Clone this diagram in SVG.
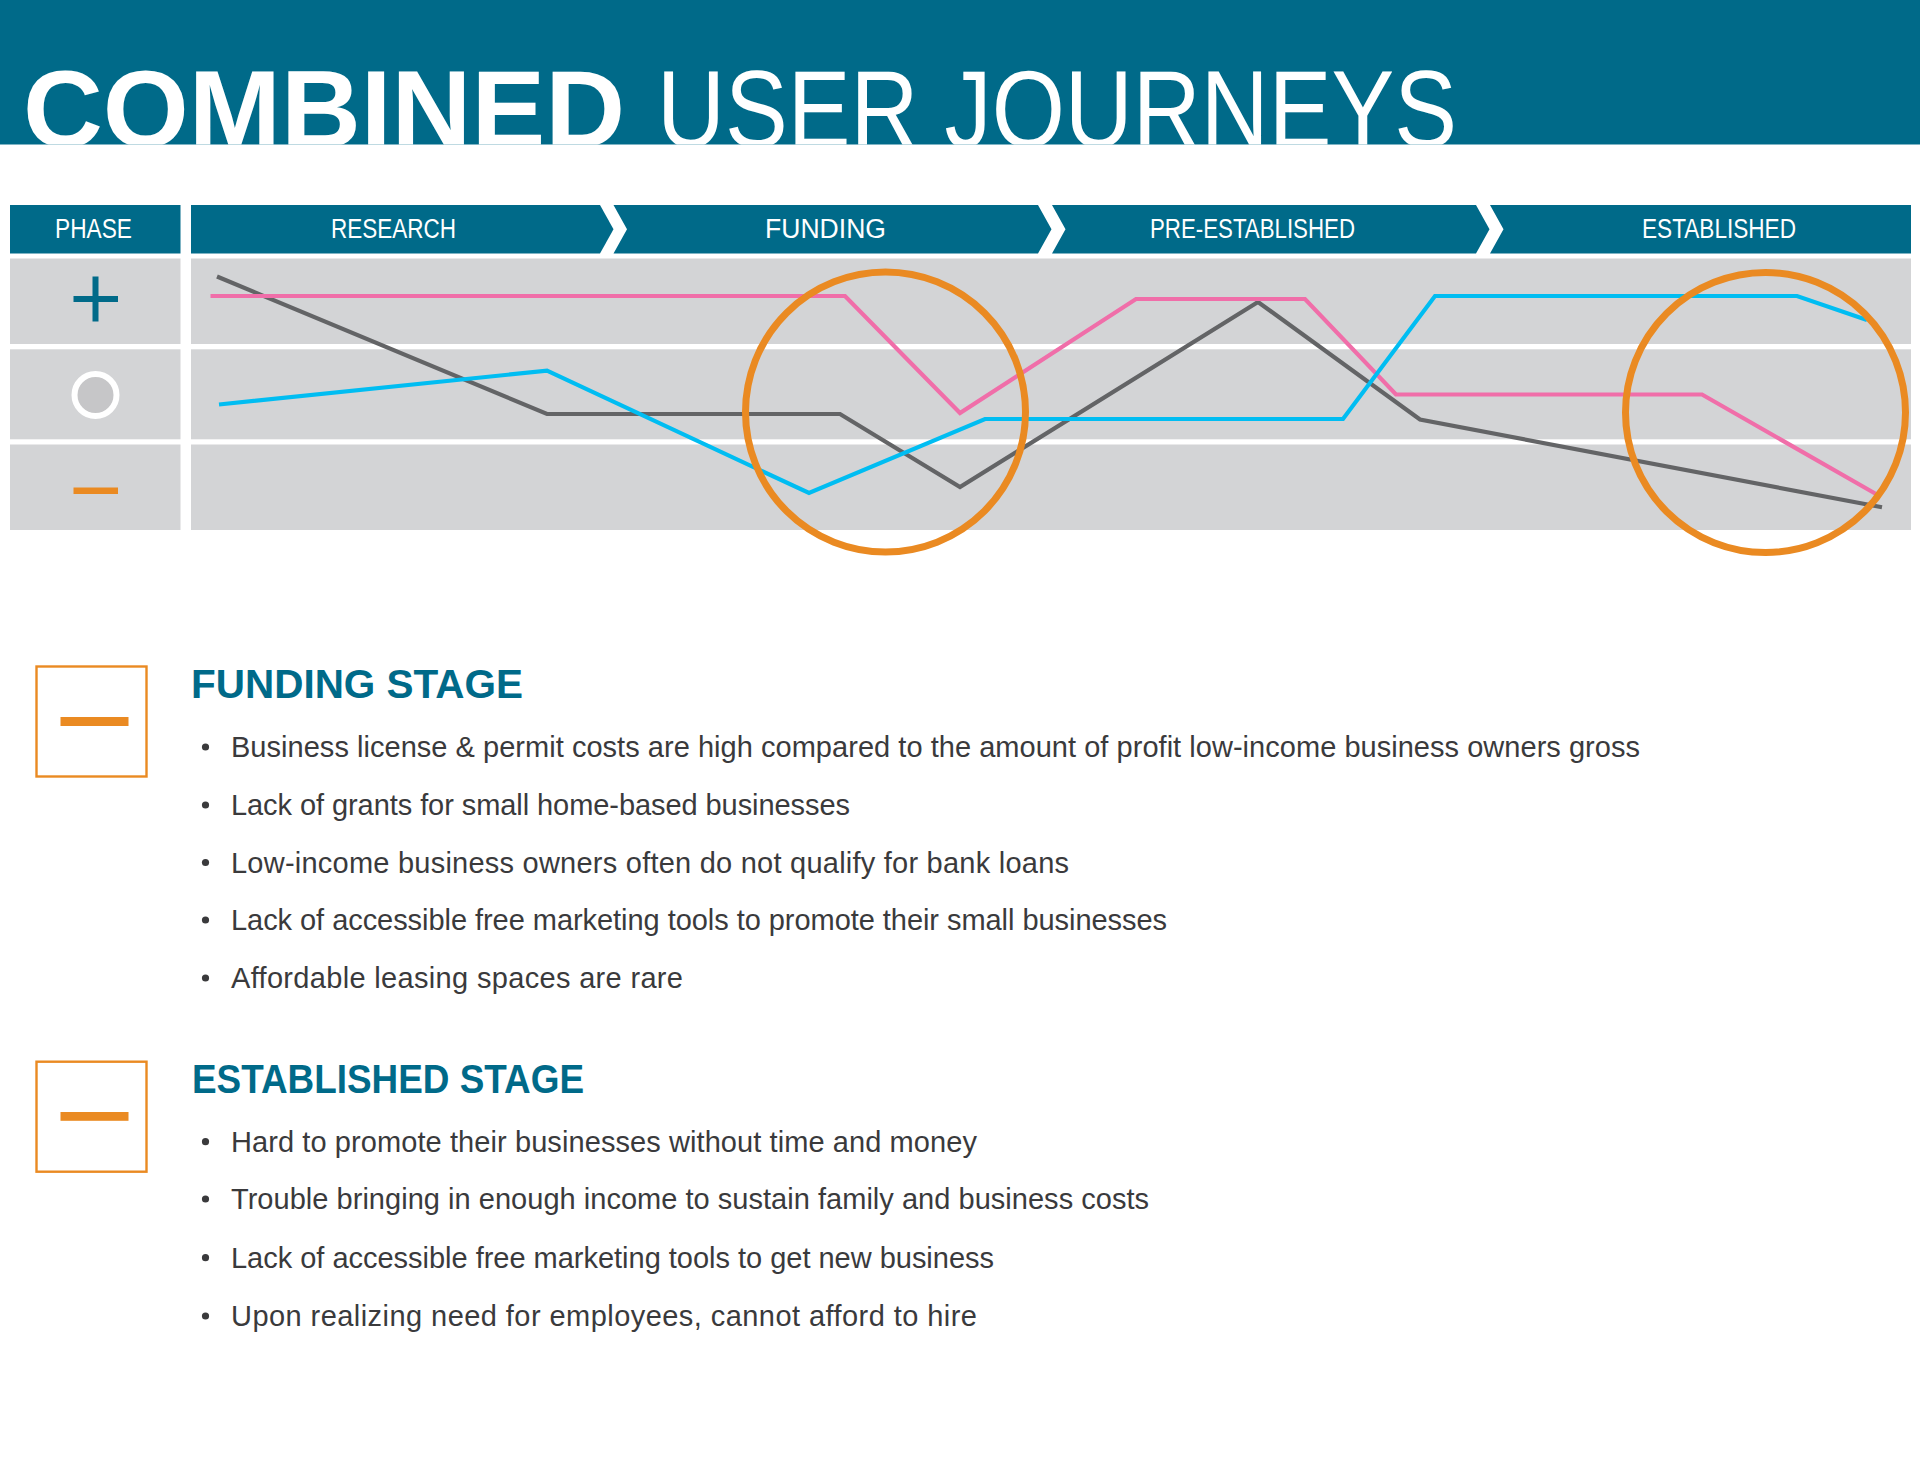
<svg xmlns="http://www.w3.org/2000/svg" width="1920" height="1484" viewBox="0 0 1920 1484">
<style>
.teal{fill:#006a89}
.cell{fill:#d3d4d6}
.title{font-family:"Liberation Sans",Arial,sans-serif;fill:#ffffff}
.ph{font-family:"Liberation Sans",Arial,sans-serif;font-size:27px;fill:#ffffff;text-anchor:middle}
.hd{font-family:"Liberation Sans",Arial,sans-serif;font-size:40px;font-weight:bold;fill:#006a89}
.bl{font-family:"Liberation Sans",Arial,sans-serif;font-size:29px;fill:#3a3a3c}
.dot{fill:#3a3a3c}
.ln{fill:none;stroke-width:4.2;stroke-linejoin:miter}
.ring{fill:none;stroke:#ea8a22;stroke-width:7}
.box{fill:#ffffff;stroke:#ea8a22;stroke-width:2.4}
.or{fill:#ea8a22}
</style>
<defs>
<clipPath id="bandclip"><rect x="0" y="0" width="1920" height="144.5"/></clipPath>
</defs>
<rect x="0" y="0" width="1920" height="1484" fill="#ffffff"/>
<g id="title">
<rect class="teal" x="0" y="0" width="1920" height="144.5"/>
<g clip-path="url(#bandclip)">
<text class="title" x="23" y="147" font-size="109" font-weight="bold" textLength="602" lengthAdjust="spacingAndGlyphs">COMBINED</text>
<text class="title" x="657" y="147" font-size="109" textLength="800" lengthAdjust="spacingAndGlyphs">USER JOURNEYS</text>
</g>
</g>
<g id="phase-header">
<rect class="teal" x="10" y="205" width="170.5" height="48.5"/>
<text class="ph" x="93.5" y="238" textLength="77" lengthAdjust="spacingAndGlyphs">PHASE</text>
</g>
<g id="phase-research">
<polygon class="teal" points="191,205 600,205 613.5,229.3 600,253.5 191,253.5"/>
<text class="ph" x="393.5" y="238" textLength="125" lengthAdjust="spacingAndGlyphs">RESEARCH</text>
</g>
<g id="phase-funding">
<polygon class="teal" points="613.5,205 1038,205 1051.5,229.3 1038,253.5 613.5,253.5 627,229.3"/>
<text class="ph" x="825.5" y="238" textLength="121" lengthAdjust="spacingAndGlyphs">FUNDING</text>
</g>
<g id="phase-pre-established">
<polygon class="teal" points="1052,205 1476,205 1489.5,229.3 1476,253.5 1052,253.5 1065.5,229.3"/>
<text class="ph" x="1252.5" y="238" textLength="205" lengthAdjust="spacingAndGlyphs">PRE-ESTABLISHED</text>
</g>
<g id="phase-established">
<polygon class="teal" points="1490,205 1911,205 1911,253.5 1490,253.5 1503.5,229.3"/>
<text class="ph" x="1719" y="238" textLength="154" lengthAdjust="spacingAndGlyphs">ESTABLISHED</text>
</g>
<g id="row-positive">
<rect class="cell" x="10" y="258.5" width="170.5" height="85.5"/>
<rect class="cell" x="191" y="258.5" width="1720" height="85.5"/>
<rect class="teal" x="73.5" y="296" width="44.5" height="6"/>
<rect class="teal" x="92.5" y="276.5" width="6" height="45"/>
</g>
<g id="row-neutral">
<rect class="cell" x="10" y="349.3" width="170.5" height="90"/>
<rect class="cell" x="191" y="349.3" width="1720" height="90"/>
<circle cx="95.5" cy="395" r="21" fill="#c6c6c8" stroke="#ffffff" stroke-width="6"/>
</g>
<g id="row-negative">
<rect class="cell" x="10" y="444.5" width="170.5" height="85.5"/>
<rect class="cell" x="191" y="444.5" width="1720" height="85.5"/>
<rect class="or" x="73.5" y="487.5" width="44.5" height="6.5"/>
</g>
<g id="connectors">
<polyline class="ln" stroke="#636466" points="217,276.5 547,414 840,414 960,487 1258,302 1420,419.5 1882,507.3"/>
<polyline class="ln" stroke="#f06ea9" points="210.5,296 845,296 960,413 1136,299 1305,299 1396,394.5 1702,394.5 1876,494"/>
<polyline class="ln" stroke="#00bdf2" points="219,404.5 547,370.7 809,493 985,419 1343,419 1435,296 1797,296 1867,320"/>
</g>
<g id="highlight-funding">
<circle class="ring" cx="885.5" cy="412" r="140"/>
</g>
<g id="highlight-established">
<circle class="ring" cx="1765.5" cy="412.5" r="140"/>
</g>
<g id="funding-stage">
<rect class="box" x="36.5" y="666.5" width="110" height="110"/>
<rect class="or" x="60.5" y="717" width="68" height="9"/>
<text class="hd" x="191" y="698" textLength="332" lengthAdjust="spacingAndGlyphs">FUNDING STAGE</text>
<circle class="dot" cx="205.5" cy="747" r="3.6"/>
<text class="bl" x="231" y="757" textLength="1409" lengthAdjust="spacing">Business license &amp; permit costs are high compared to the amount of profit low-income business owners gross</text>
<circle class="dot" cx="205.5" cy="805" r="3.6"/>
<text class="bl" x="231" y="815" textLength="619" lengthAdjust="spacing">Lack of grants for small home-based businesses</text>
<circle class="dot" cx="205.5" cy="862.5" r="3.6"/>
<text class="bl" x="231" y="872.5" textLength="838" lengthAdjust="spacing">Low-income business owners often do not qualify for bank loans</text>
<circle class="dot" cx="205.5" cy="920" r="3.6"/>
<text class="bl" x="231" y="930" textLength="936" lengthAdjust="spacing">Lack of accessible free marketing tools to promote their small businesses</text>
<circle class="dot" cx="205.5" cy="978" r="3.6"/>
<text class="bl" x="231" y="988" textLength="452" lengthAdjust="spacing">Affordable leasing spaces are rare</text>
</g>
<g id="established-stage">
<rect class="box" x="36.5" y="1061.7" width="110" height="110"/>
<rect class="or" x="60.5" y="1112" width="68" height="8.8"/>
<text class="hd" x="192" y="1093.3" textLength="392" lengthAdjust="spacingAndGlyphs">ESTABLISHED STAGE</text>
<circle class="dot" cx="205.5" cy="1141.7" r="3.6"/>
<text class="bl" x="231" y="1151.7" textLength="746" lengthAdjust="spacing">Hard to promote their businesses without time and money</text>
<circle class="dot" cx="205.5" cy="1199" r="3.6"/>
<text class="bl" x="231" y="1209" textLength="918" lengthAdjust="spacing">Trouble bringing in enough income to sustain family and business costs</text>
<circle class="dot" cx="205.5" cy="1257.7" r="3.6"/>
<text class="bl" x="231" y="1267.7" textLength="763" lengthAdjust="spacing">Lack of accessible free marketing tools to get new business</text>
<circle class="dot" cx="205.5" cy="1316" r="3.6"/>
<text class="bl" x="231" y="1326" textLength="746" lengthAdjust="spacing">Upon realizing need for employees, cannot afford to hire</text>
</g>
</svg>
